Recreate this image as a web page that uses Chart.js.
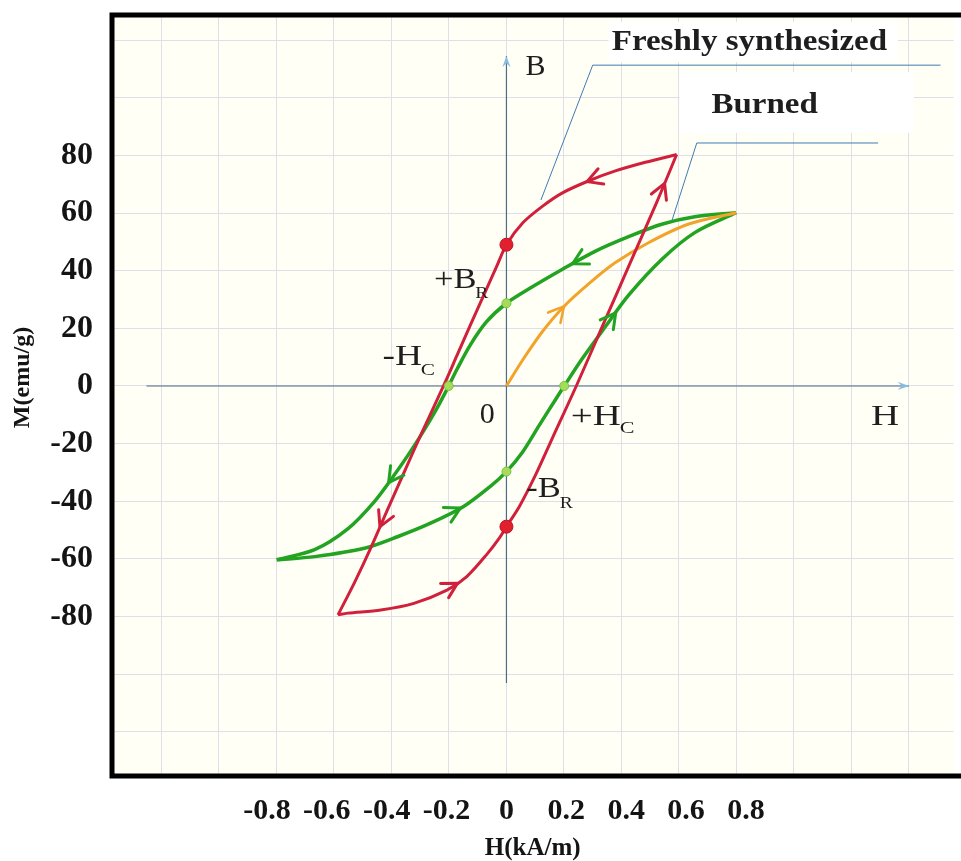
<!DOCTYPE html>
<html>
<head>
<meta charset="utf-8">
<script src="https://cdn.jsdelivr.net/npm/chart.js@4.4.1/dist/chart.umd.min.js"></script>
<style>
html,body{margin:0;padding:0;background:#fff;overflow:hidden}
#wrap{width:961px;height:861px;position:relative}
</style>
</head>
<body>
<div id="wrap"><canvas id="c" width="961" height="861"></canvas></div>
<script>
// ---------- data (H in kA/m, M in emu/g) ----------
const xTickLabels = ['-0.8','-0.6','-0.4','-0.2','0','0.2','0.4','0.6','0.8'];
const yTickLabels = ['80','60','40','20','0','-20','-40','-60','-80'];

// Freshly synthesized loop (red)
const redUpperH = [0.592, 0.483, 0.379, 0.287, 0.195, 0.126, 0.057, 0, -0.034, -0.080, -0.126, -0.172, -0.219, -0.299, -0.356, -0.414, -0.471, -0.529, -0.586];
const redUpperM = [80.3, 77.6, 74.6, 71.2, 67.0, 62.4, 56.6, 49.0, 41.5, 31.3, 21.0, 10.6, 0, -17.2, -30.0, -43.0, -56.0, -68.3, -79.4];
const redLowerH = [-0.586, -0.552, -0.437, -0.322, -0.207, -0.138, -0.069, -0.023, 0, 0.046, 0.103, 0.161, 0.243, 0.335, 0.430, 0.523, 0.592];
const redLowerM = [-79.4, -78.8, -77.7, -75.4, -70.8, -66.1, -58.5, -52.5, -48.8, -41.6, -30.5, -17.8, 0, 21.0, 42.6, 63.8, 80.3];

// Burned loop (green)
const greenUpperH = [0.799, 0.655, 0.540, 0.425, 0.310, 0.195, 0.080, 0, -0.069, -0.126, -0.172, -0.201, -0.241, -0.287, -0.333, -0.391, -0.460, -0.552, -0.667, -0.799];
const greenUpperM = [60.1, 58.7, 56.1, 51.8, 46.8, 40.5, 33.8, 28.7, 22.3, 14.2, 5.8, 0, -7.6, -15.4, -22.6, -31.0, -40.2, -49.6, -56.8, -60.3];
const greenLowerH = [-0.799, -0.667, -0.494, -0.379, -0.264, -0.149, -0.057, 0, 0.057, 0.115, 0.172, 0.201, 0.264, 0.345, 0.425, 0.540, 0.655, 0.799];
const greenLowerM = [-60.3, -59.2, -56.3, -52.3, -47.6, -41.8, -34.9, -29.7, -22.8, -13.5, -4.5, 0, 9.5, 20.7, 31.5, 43.9, 53.2, 60.1];

// Initial magnetization curve (orange)
const orangeH = [0, 0.057, 0.126, 0.200, 0.293, 0.379, 0.494, 0.632, 0.799];
const orangeM = [0, 9.1, 19.0, 27.6, 36.0, 42.8, 49.7, 56.1, 60.1];

// Remanence / coercivity markers
const redMarkH = [0, 0];
const redMarkM = [49.0, -48.8];
const greenMarkH = [0, -0.201, 0, 0.201];
const greenMarkM = [28.7, 0, -29.7, 0];

// ---------- styling / layout ----------
const X_MIN = -1.372, X_MAX = 1.555, Y_MIN = -135.3, Y_MAX = 128.7;
const LABEL_K = 290 / 302;
const RED = '#d0203c', GREEN = '#22a322', ORANGE = '#f2a32c', AXIS = '#4c6d86', LEADER = '#3f7cb3', GRID = '#dfdfea';
const SERIF = '"Liberation Serif", "Times New Roman", serif';

const pts = (xs, ys) => xs.map((x, i) => ({x, y: ys[i]}));

const axisLines = {
  h: [{x: -1.252, y: 0}, {x: 1.40, y: 0}],
  b: [{x: 0, y: -103}, {x: 0, y: 114.5}]
};
const leaders = {
  fresh: [{x: 0.12, y: 64.5}, {x: 0.30, y: 111.3}, {x: 1.51, y: 111.3}],
  burned: [{x: 0.576, y: 57.5}, {x: 0.662, y: 84.3}, {x: 1.293, y: 84.3}]
};
const arrows = [
  {from: [0.38, 74.6], to: [0.28, 70.9], color: RED, w: 3},
  {from: [0.51, 60.6], to: [0.55, 70.3], color: RED, w: 3},
  {from: [-0.40, -39.9], to: [-0.44, -48.8], color: RED, w: 3},
  {from: [-0.26, -73.5], to: [-0.17, -68.4], color: RED, w: 3},
  {from: [0.33, 47.7], to: [0.23, 42.4], color: GREEN, w: 3},
  {from: [0.31, 16.0], to: [0.38, 25.4], color: GREEN, w: 3},
  {from: [-0.35, -25.1], to: [-0.41, -33.5], color: GREEN, w: 3},
  {from: [-0.26, -47.5], to: [-0.16, -42.3], color: GREEN, w: 3},
  {from: [0.13, 19.4], to: [0.20, 27.6], color: ORANGE, w: 2.5}
];
const axisHeads = [
  {from: [1.30, 0], to: [1.40, 0]},
  {from: [0, 104], to: [0, 114.5]}
];
const labels = [
  {t: 'B', x: 0.066, y: 107.9, size: 30, sx: 1.0},
  {t: '+B', s: 'R', x: -0.252, y: 34.0, size: 30, sx: 1.15, sub: 10},
  {t: '-H', s: 'C', x: -0.431, y: 7.3, size: 30, sx: 1.25, sub: 10},
  {t: '0', x: -0.093, y: -12.8, size: 30, sx: 1.0},
  {t: '+H', s: 'C', x: 0.224, y: -13.5, size: 30, sx: 1.3, sub: 8},
  {t: '-B', s: 'R', x: 0.069, y: -38.5, size: 30, sx: 1.15, sub: 11},
  {t: 'H', x: 1.268, y: -13.5, size: 30, sx: 1.3}
];
const boxes = [
  {x0: 0.355, x1: 1.362, y0: 126.3, y1: 112.4, t: 'Freshly synthesized', tx: 0.845, ty: 116.5},
  {x0: 0.603, x1: 1.417, y0: 108.9, y1: 87.8, t: 'Burned', tx: 0.898, ty: 94.6}
];

function px(chart, x, y) {
  return [chart.scales.x.getPixelForValue(x), chart.scales.y.getPixelForValue(y)];
}

const deco = {
  id: 'deco',
  beforeDraw(chart) {
    const {ctx, chartArea: a} = chart;
    ctx.save();
    ctx.fillStyle = '#fffff5';
    ctx.fillRect(a.left, a.top, a.right - a.left, a.bottom - a.top);
    ctx.restore();
  },
  beforeDatasetsDraw(chart) {
    const {ctx} = chart;
    ctx.save();
    ctx.fillStyle = '#ffffff';
    boxes.forEach(b => {
      const [x0, y0] = px(chart, b.x0, b.y0);
      const [x1, y1] = px(chart, b.x1, b.y1);
      ctx.fillRect(x0, y0, x1 - x0, y1 - y0);
    });
    ctx.restore();
  },
  afterDatasetsDraw(chart) {
    const {ctx} = chart;
    ctx.save();
    ctx.lineCap = 'round';
    ctx.lineJoin = 'round';
    arrows.forEach(a => {
      const [fx, fy] = px(chart, a.from[0], a.from[1]);
      const [tx, ty] = px(chart, a.to[0], a.to[1]);
      const ang = Math.atan2(ty - fy, tx - fx);
      const L = 17, th = 0.5;
      ctx.strokeStyle = a.color;
      ctx.lineWidth = a.w;
      ctx.beginPath();
      ctx.moveTo(tx - L * Math.cos(ang - th), ty - L * Math.sin(ang - th));
      ctx.lineTo(tx, ty);
      ctx.lineTo(tx - L * Math.cos(ang + th), ty - L * Math.sin(ang + th));
      ctx.stroke();
    });
    axisHeads.forEach(a => {
      const [fx, fy] = px(chart, a.from[0], a.from[1]);
      const [tx, ty] = px(chart, a.to[0], a.to[1]);
      const ang = Math.atan2(ty - fy, tx - fx);
      const L = 12, th = 0.35;
      ctx.fillStyle = '#86bde3';
      ctx.beginPath();
      ctx.moveTo(tx, ty);
      ctx.lineTo(tx - L * Math.cos(ang - th), ty - L * Math.sin(ang - th));
      ctx.lineTo(tx - L * 0.6 * Math.cos(ang), ty - L * 0.6 * Math.sin(ang));
      ctx.lineTo(tx - L * Math.cos(ang + th), ty - L * Math.sin(ang + th));
      ctx.closePath();
      ctx.fill();
    });
    ctx.fillStyle = '#1e1e1e';
    ctx.textBaseline = 'alphabetic';
    labels.forEach(l => {
      const [x, y] = px(chart, l.x, l.y);
      ctx.save();
      ctx.translate(x, y);
      ctx.scale(l.sx, 1);
      ctx.font = l.size + 'px ' + SERIF;
      ctx.textAlign = 'left';
      ctx.fillText(l.t, 0, 0);
      if (l.s) {
        const w = ctx.measureText(l.t).width;
        ctx.font = '17px ' + SERIF;
        ctx.fillText(l.s, w - 1, l.sub);
      }
      ctx.restore();
    });
    boxes.forEach(b => {
      const [x, y] = px(chart, b.tx, b.ty);
      ctx.save();
      ctx.translate(x, y);
      ctx.scale(1.1, 1);
      ctx.font = 'bold 30px ' + SERIF;
      ctx.textAlign = 'center';
      ctx.fillText(b.t, 0, 0);
      ctx.restore();
    });
    ctx.restore();
  },
  afterDraw(chart) {
    const {ctx, chartArea: a} = chart;
    ctx.save();
    ctx.strokeStyle = '#000';
    ctx.lineWidth = 5;
    ctx.lineJoin = 'miter';
    ctx.beginPath();
    ctx.moveTo(a.right + 10, a.top);
    ctx.lineTo(a.left, a.top);
    ctx.lineTo(a.left, a.bottom);
    ctx.lineTo(a.right + 10, a.bottom);
    ctx.stroke();
    ctx.restore();
  }
};

const lineDs = (data, color, width, tension) => ({
  data, borderColor: color, backgroundColor: color, borderWidth: width,
  showLine: true, pointRadius: 0, tension: tension, fill: false
});

new Chart(document.getElementById('c'), {
  type: 'scatter',
  data: {
    datasets: [
      {data: pts(redMarkH, redMarkM), pointRadius: 6.5, pointBackgroundColor: '#e0202c', pointBorderColor: '#c0102a', pointBorderWidth: 1, showLine: false},
      {data: pts(greenMarkH, greenMarkM), pointRadius: 4.5, pointBackgroundColor: '#a6dc5c', pointBorderColor: '#7cc23c', pointBorderWidth: 1, showLine: false},
      lineDs(pts(redUpperH, redUpperM), RED, 3, 0.3),
      lineDs(pts(redLowerH, redLowerM), RED, 3, 0.3),
      lineDs(pts(orangeH, orangeM), ORANGE, 3, 0.3),
      lineDs(pts(greenUpperH, greenUpperM), GREEN, 3.5, 0.3),
      lineDs(pts(greenLowerH, greenLowerM), GREEN, 3.5, 0.3),
      lineDs(leaders.fresh, LEADER, 1, 0),
      lineDs(leaders.burned, LEADER, 1, 0),
      lineDs(axisLines.h, AXIS, 1.2, 0),
      lineDs(axisLines.b, AXIS, 1.2, 0)
    ]
  },
  options: {
    responsive: false,
    animation: false,
    devicePixelRatio: 1,
    layout: {padding: {top: 15, left: 0, right: 0, bottom: 0}},
    plugins: {legend: {display: false}, tooltip: {enabled: false}},
    scales: {
      x: {
        type: 'linear', position: 'bottom', min: X_MIN, max: X_MAX, weight: 0,
        ticks: {display: false, stepSize: 0.2, includeBounds: false},
        grid: {color: GRID, drawTicks: false, lineWidth: 1},
        border: {display: false},
        afterFit(s) { s.height = 0; s.paddingLeft = 0; s.paddingRight = 0; }
      },
      xt: {
        type: 'linear', position: 'bottom', min: X_MIN * LABEL_K, max: X_MAX * LABEL_K, weight: 1,
        grid: {display: false, drawTicks: false},
        border: {display: false},
        ticks: {
          stepSize: 0.2, includeBounds: false, autoSkip: false, maxRotation: 0, padding: 17,
          color: '#141414', font: {family: SERIF, size: 30, weight: 'bold'},
          callback: v => { const s = String(Number(Number(v).toFixed(1)) || 0); return xTickLabels.includes(s) ? s : ''; }
        },
        title: {display: true, text: 'H(kA/m)', color: '#141414', font: {family: SERIF, size: 25, weight: 'bold', lineHeight: 1}, padding: {top: 0, bottom: 0}},
        afterFit(s) { s.height = 85; s.paddingLeft = 0; s.paddingRight = 0; }
      },
      y: {
        type: 'linear', position: 'left', min: Y_MIN, max: Y_MAX,
        ticks: {
          stepSize: 20, includeBounds: false, autoSkip: false, padding: 19,
          color: '#141414', font: {family: SERIF, size: 32, weight: 'bold'},
          callback: v => { const s = String(Math.round(v)); return yTickLabels.includes(s) ? s : ''; }
        },
        grid: {color: GRID, drawTicks: false, lineWidth: 1},
        border: {display: false},
        title: {display: true, text: '\u2002\u2002\u2002M(emu/g)', color: '#141414', font: {family: SERIF, size: 24, weight: 'bold', lineHeight: 1}, padding: {top: 11, bottom: 0}},
        afterFit(s) { s.width = 112; s.paddingTop = 0; s.paddingBottom = 0; }
      }
    }
  },
  plugins: [deco]
});
</script>
</body>
</html>
